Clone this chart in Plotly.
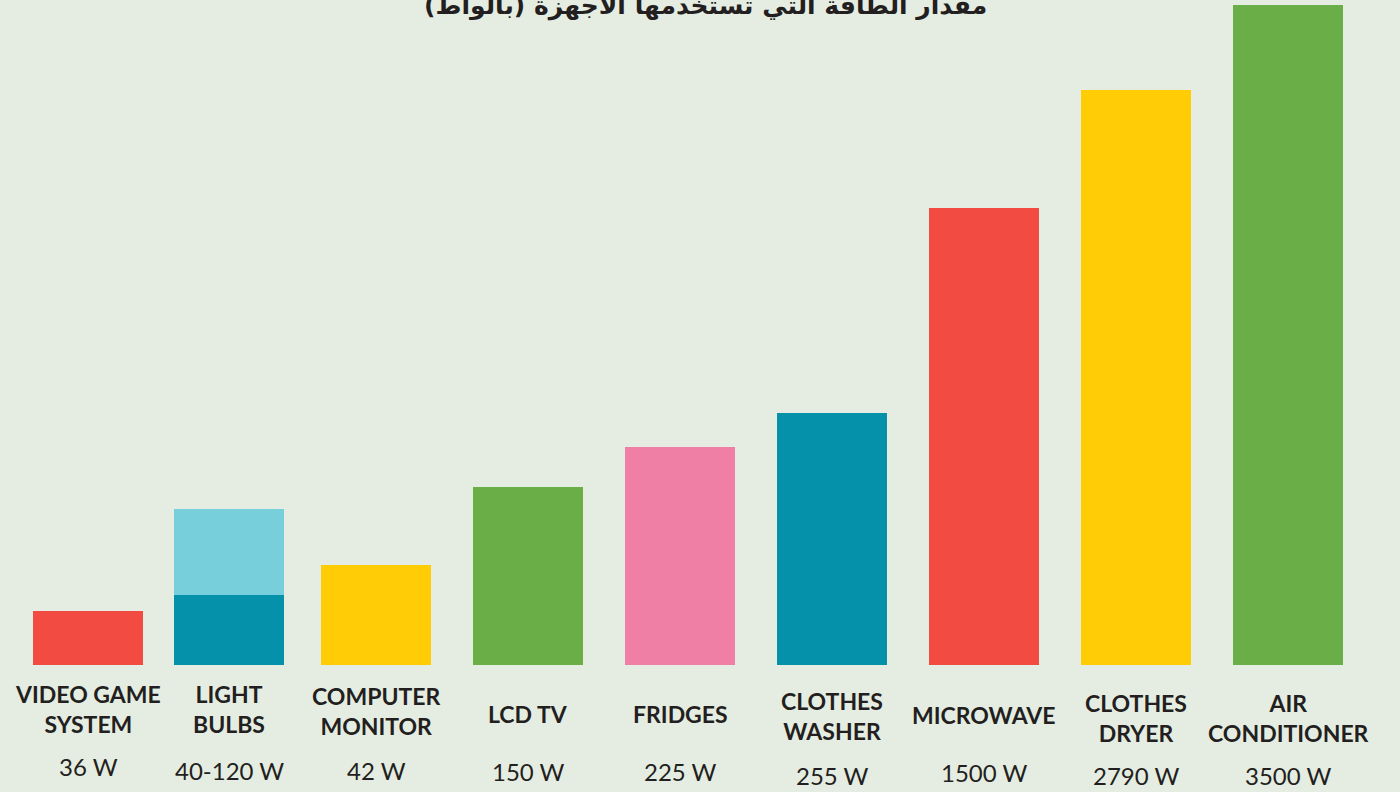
import plotly.graph_objects as go

# ---- data ----
categories = ["VIDEO GAME<br>SYSTEM", "LIGHT<br>BULBS", "COMPUTER<br>MONITOR", "LCD TV",
              "FRIDGES", "CLOTHES<br>WASHER", "MICROWAVE", "CLOTHES<br>DRYER", "AIR<br>CONDITIONER"]
watt_labels = ["36 W", "40-120 W", "42 W", "150 W", "225 W", "255 W", "1500 W", "2790 W", "3500 W"]
# display heights of the bars as drawn (relative units)
bar_heights = [54, 70, 100, 178, 218, 252, 457, 575, 660]
# light bulbs: the upper (120 W) extent of the range bar
bulb_range_low = 70
bulb_range_high = 156
title_text = "مقدار الطاقة التي تستخدمها الأجهزة (بالواط)"

# ---- styling / layout ----
bar_colors = ["#f14b42", "#0591aa", "#ffcc05", "#6aae47", "#f07fa5",
              "#0591aa", "#f14b42", "#ffcc05", "#6aae47"]
bulb_light_color = "#77cfdb"
x_centers = [88, 229, 376, 528, 680, 832, 984, 1136, 1288]
label_offsets = [709, 709, 711, 714, 714, 716, 715, 718, 718]
watt_offsets = [766, 770, 770, 771, 771, 775, 772, 775, 775]
bar_width = 110
bg = "#e5ede2"
text_color = "#231f20"
W, H = 1400, 792
baseline_px = 665

fig = go.Figure()
fig.add_trace(go.Bar(x=x_centers, y=bar_heights, width=bar_width,
                     marker=dict(color=bar_colors, line=dict(width=0)),
                     hoverinfo="skip", showlegend=False))
fig.add_trace(go.Bar(x=[x_centers[1]], y=[bulb_range_high - bulb_range_low], base=[bulb_range_low],
                     width=bar_width, marker=dict(color=bulb_light_color, line=dict(width=0)),
                     hoverinfo="skip", showlegend=False))

annotations = []
for xc, cat, wl, ly, wy in zip(x_centers, categories, watt_labels, label_offsets, watt_offsets):
    annotations.append(dict(x=xc, y=baseline_px - ly, xref="x", yref="y", text="<b>" + cat + "</b>",
                            showarrow=False, xanchor="center", yanchor="middle",
                            font=dict(family="Lato", size=23, color=text_color)))
    annotations.append(dict(x=xc, y=baseline_px - wy, xref="x", yref="y", text=wl,
                            showarrow=False, xanchor="center", yanchor="middle",
                            font=dict(family="Lato", size=24, color=text_color)))
annotations.append(dict(x=705, y=baseline_px - 5, xref="x", yref="y", text="<b>" + title_text + "</b>",
                        showarrow=False, xanchor="center", yanchor="middle",
                        font=dict(family="DejaVu Sans", size=25, color=text_color)))

fig.update_layout(
    width=W, height=H, margin=dict(l=0, r=0, t=0, b=0),
    paper_bgcolor=bg, plot_bgcolor=bg,
    barmode="overlay", bargap=0,
    xaxis=dict(range=[0, W], visible=False, fixedrange=True),
    yaxis=dict(range=[baseline_px - H, baseline_px], visible=False, fixedrange=True),
    annotations=annotations,
)

fig.write_html("out.html", config={"displayModeBar": False},
               post_script="document.body.style.margin='0';document.body.style.background='%s';" % bg)
